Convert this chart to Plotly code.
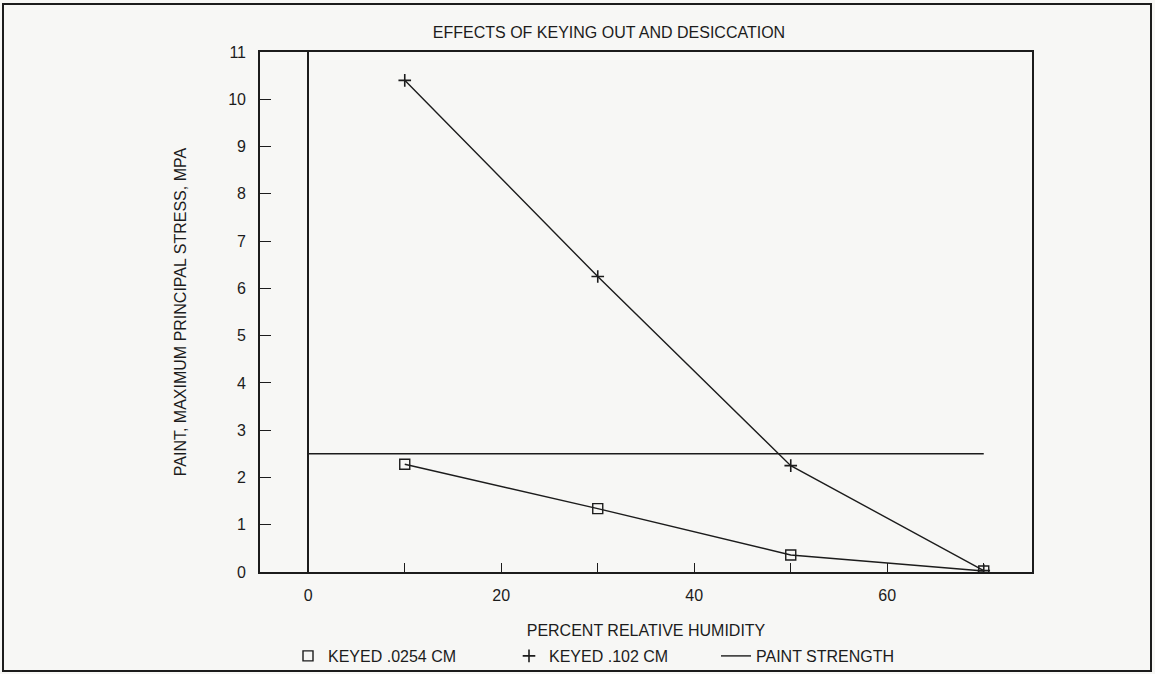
import plotly.graph_objects as go

# Relative humidity (%) at which each specimen was evaluated
humidity = [10, 30, 50, 70]

# Maximum principal stress in the paint layer (MPa)
keyed_0254 = [2.28, 1.34, 0.36, 0.02]
keyed_102 = [10.4, 6.25, 2.25, 0.03]

# Paint strength reference level (MPa) across the humidity range
strength_x = [0, 70]
strength_y = [2.5, 2.5]

x_ticks = [0, 10, 20, 30, 40, 50, 60, 70]
x_tick_labels = ["0", "", "20", "", "40", "", "60", ""]
y_ticks = list(range(0, 12))

FONT = "Liberation Sans, Arial, Helvetica, sans-serif"
INK = "#1c1c1c"
BG = "#f7f7f5"

W, H = 1155, 674
L, R, T, B = 260, 123, 52, 102
plot_w = W - L - R
plot_h = H - T - B


def px_to_paper_x(px):
    return (px - L) / plot_w


def px_to_paper_y(py):
    return (H - B - py) / plot_h


fig = go.Figure()

# Connecting lines (kept out of the legend so the key shows symbols only)
for series in (keyed_0254, keyed_102):
    fig.add_trace(go.Scatter(
        x=humidity, y=series, mode="lines",
        line=dict(color=INK, width=1.4), showlegend=False, hoverinfo="skip",
    ))

fig.add_trace(go.Scatter(
    x=humidity, y=keyed_0254, mode="markers", name="KEYED .0254 CM",
    marker=dict(symbol="square-open", size=10, color=INK, line=dict(width=1.4, color=INK)),
    legend="legend",
))
fig.add_trace(go.Scatter(
    x=humidity, y=keyed_102, mode="markers", name="KEYED .102 CM",
    marker=dict(symbol="cross-thin-open", size=9, color=INK, line=dict(width=1.6, color=INK)),
    legend="legend2",
))
fig.add_trace(go.Scatter(
    x=strength_x, y=strength_y, mode="lines", name="PAINT STRENGTH",
    line=dict(color=INK, width=1.4),
    legend="legend3",
))

legend_style = dict(
    orientation="h", yanchor="middle", xanchor="left",
    bgcolor="rgba(0,0,0,0)", borderwidth=0,
    font=dict(family=FONT, size=16, color=INK),
    itemwidth=30,
)
legend_y = px_to_paper_y(656)

fig.update_layout(
    width=W, height=H,
    margin=dict(l=L, r=R, t=T, b=B, autoexpand=False),
    paper_bgcolor=BG, plot_bgcolor=BG,
    font=dict(family=FONT, size=16, color=INK),
    title=dict(
        text="EFFECTS OF KEYING OUT AND DESICCATION",
        x=609 / W, xanchor="center", xref="container",
        y=1 - 32 / H, yanchor="middle", yref="container",
        font=dict(family=FONT, size=16, color=INK),
    ),
    showlegend=True,
    legend=dict(legend_style, x=px_to_paper_x(288), y=legend_y),
    legend2=dict(legend_style, x=px_to_paper_x(509), y=legend_y),
    legend3=dict(legend_style, x=px_to_paper_x(716), y=legend_y),
    xaxis=dict(
        range=[-5, 75], tickmode="array", tickvals=x_ticks, ticktext=x_tick_labels,
        ticks="inside", ticklen=9, tickwidth=1.4, tickcolor=INK,
        showline=True, linecolor=INK, linewidth=1.6, mirror=True,
        showgrid=False, zeroline=True, zerolinecolor=INK, zerolinewidth=1.6,
        ticklabelstandoff=8,
        tickfont=dict(family=FONT, size=16, color=INK),
        title=dict(text="PERCENT RELATIVE HUMIDITY", standoff=22,
                   font=dict(family=FONT, size=16, color=INK)),
    ),
    yaxis=dict(
        range=[0, 11], tickmode="array", tickvals=y_ticks,
        ticks="inside", ticklen=11, tickwidth=1.4, tickcolor=INK,
        showline=True, linecolor=INK, linewidth=1.6, mirror=True,
        showgrid=False, zeroline=False,
        ticklabelstandoff=9,
        tickfont=dict(family=FONT, size=16, color=INK),
        title=dict(text="PAINT, MAXIMUM PRINCIPAL STRESS, MPA", standoff=38,
                   font=dict(family=FONT, size=16, color=INK)),
    ),
)

# Border framing the whole figure
fig.add_shape(
    type="rect", xref="paper", yref="paper",
    x0=px_to_paper_x(3), x1=px_to_paper_x(1151),
    y0=px_to_paper_y(671), y1=px_to_paper_y(4),
    line=dict(color=INK, width=2), fillcolor="rgba(0,0,0,0)", layer="below",
)

fig.write_html("out.html")
